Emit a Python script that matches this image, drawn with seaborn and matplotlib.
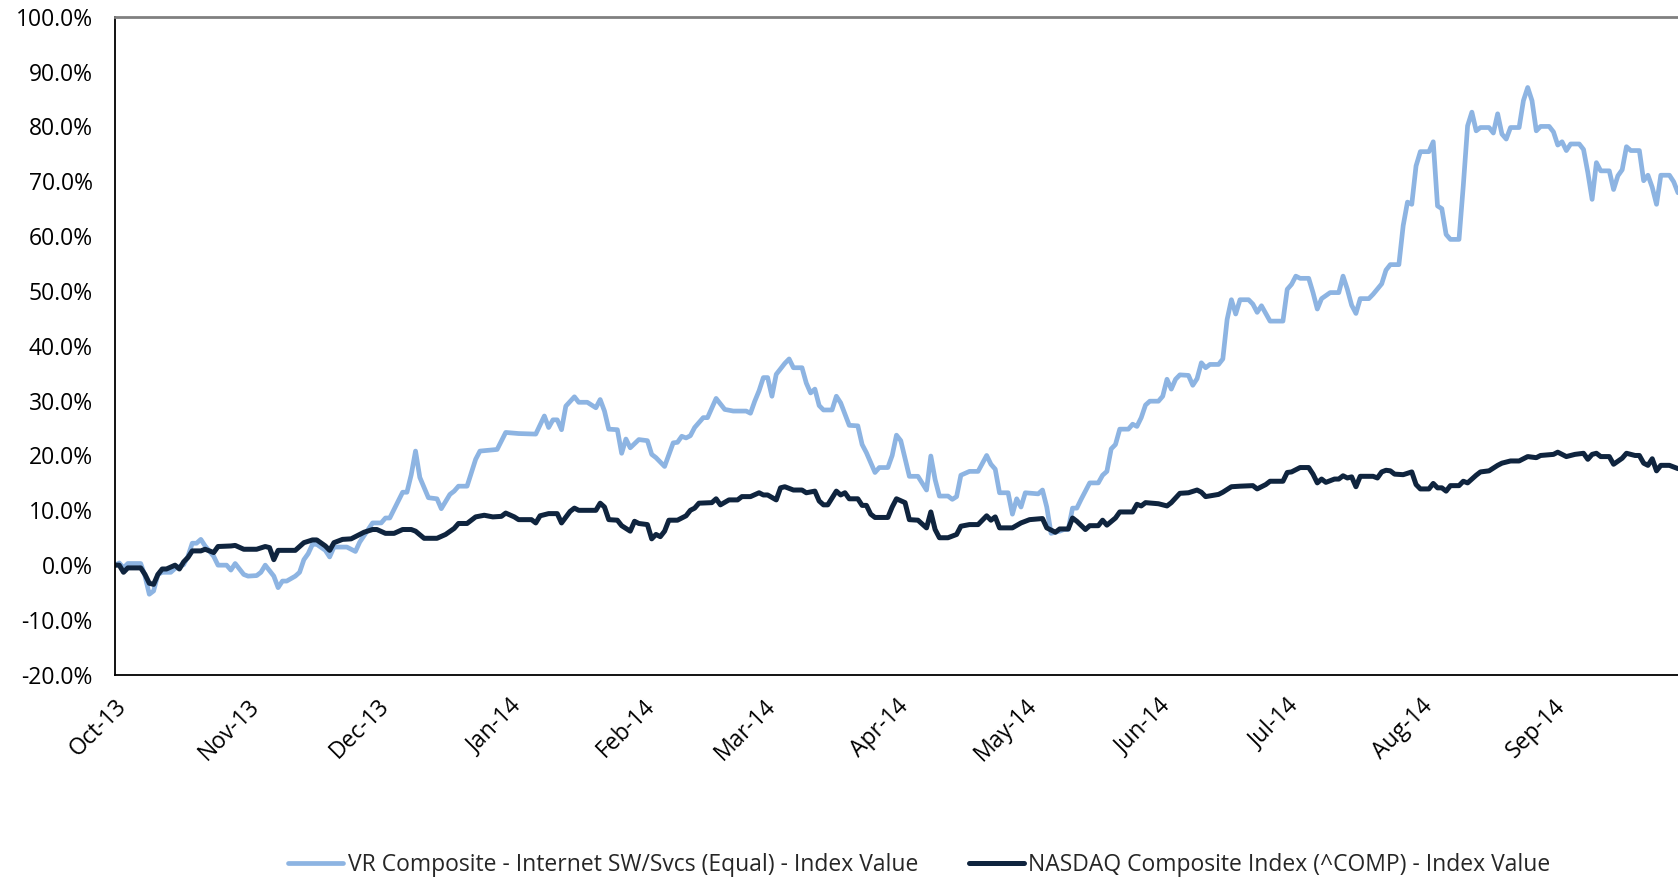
import pandas as pd
import numpy as np
import matplotlib.pyplot as plt
import matplotlib.dates as mdates
from matplotlib.ticker import PercentFormatter
import seaborn as sns

# values, percent change since 1 Oct 2013
vr_dates = [
    "2013-10-01", "2013-10-02", "2013-10-03", "2013-10-04", "2013-10-07", "2013-10-08", "2013-10-09",
    "2013-10-10", "2013-10-11", "2013-10-12", "2013-10-14", "2013-10-15", "2013-10-17", "2013-10-18",
    "2013-10-19", "2013-10-20", "2013-10-21", "2013-10-22", "2013-10-24", "2013-10-25", "2013-10-27",
    "2013-10-28", "2013-10-29", "2013-10-31", "2013-11-01", "2013-11-03", "2013-11-04", "2013-11-05",
    "2013-11-07", "2013-11-08", "2013-11-09", "2013-11-10", "2013-11-12", "2013-11-13", "2013-11-14",
    "2013-11-15", "2013-11-16", "2013-11-17", "2013-11-19", "2013-11-20", "2013-11-21", "2013-11-24",
    "2013-11-26", "2013-11-27", "2013-11-30", "2013-12-02", "2013-12-03", "2013-12-04", "2013-12-07",
    "2013-12-08", "2013-12-09", "2013-12-10", "2013-12-11", "2013-12-13", "2013-12-15", "2013-12-16",
    "2013-12-18", "2013-12-19", "2013-12-20", "2013-12-22", "2013-12-24", "2013-12-25", "2013-12-29",
    "2013-12-31", "2014-01-03", "2014-01-07", "2014-01-09", "2014-01-10", "2014-01-11", "2014-01-12",
    "2014-01-13", "2014-01-14", "2014-01-16", "2014-01-17", "2014-01-19", "2014-01-21", "2014-01-22",
    "2014-01-23", "2014-01-24", "2014-01-26", "2014-01-27", "2014-01-28", "2014-01-29", "2014-01-31",
    "2014-02-02", "2014-02-03", "2014-02-04", "2014-02-06", "2014-02-08", "2014-02-09", "2014-02-10",
    "2014-02-11", "2014-02-12", "2014-02-13", "2014-02-15", "2014-02-16", "2014-02-18", "2014-02-20",
    "2014-02-22", "2014-02-25", "2014-02-26", "2014-02-27", "2014-02-28", "2014-03-01", "2014-03-02",
    "2014-03-03", "2014-03-04", "2014-03-06", "2014-03-07", "2014-03-08", "2014-03-10", "2014-03-11",
    "2014-03-12", "2014-03-13", "2014-03-14", "2014-03-15", "2014-03-17", "2014-03-18", "2014-03-19",
    "2014-03-21", "2014-03-23", "2014-03-24", "2014-03-25", "2014-03-27", "2014-03-28", "2014-03-30",
    "2014-03-31", "2014-04-01", "2014-04-02", "2014-04-04", "2014-04-06", "2014-04-08", "2014-04-09",
    "2014-04-10", "2014-04-11", "2014-04-13", "2014-04-14", "2014-04-15", "2014-04-16", "2014-04-18",
    "2014-04-20", "2014-04-22", "2014-04-23", "2014-04-24", "2014-04-25", "2014-04-27", "2014-04-28",
    "2014-04-29", "2014-04-30", "2014-05-01", "2014-05-04", "2014-05-05", "2014-05-06", "2014-05-07",
    "2014-05-09", "2014-05-10", "2014-05-11", "2014-05-12", "2014-05-13", "2014-05-14", "2014-05-16",
    "2014-05-18", "2014-05-19", "2014-05-20", "2014-05-21", "2014-05-22", "2014-05-23", "2014-05-25",
    "2014-05-26", "2014-05-27", "2014-05-28", "2014-05-29", "2014-05-30", "2014-06-01", "2014-06-02",
    "2014-06-03", "2014-06-04", "2014-06-05", "2014-06-06", "2014-06-08", "2014-06-09", "2014-06-10",
    "2014-06-11", "2014-06-12", "2014-06-13", "2014-06-15", "2014-06-16", "2014-06-17", "2014-06-18",
    "2014-06-19", "2014-06-20", "2014-06-22", "2014-06-23", "2014-06-24", "2014-06-25", "2014-06-27",
    "2014-06-30", "2014-07-01", "2014-07-02", "2014-07-03", "2014-07-04", "2014-07-06", "2014-07-07",
    "2014-07-08", "2014-07-09", "2014-07-11", "2014-07-13", "2014-07-14", "2014-07-15", "2014-07-16",
    "2014-07-17", "2014-07-18", "2014-07-20", "2014-07-21", "2014-07-23", "2014-07-24", "2014-07-25",
    "2014-07-27", "2014-07-28", "2014-07-29", "2014-07-30", "2014-07-31", "2014-08-01", "2014-08-03",
    "2014-08-04", "2014-08-05", "2014-08-06", "2014-08-07", "2014-08-08", "2014-08-10", "2014-08-11",
    "2014-08-12", "2014-08-13", "2014-08-14", "2014-08-15", "2014-08-17", "2014-08-18", "2014-08-19",
    "2014-08-20", "2014-08-21", "2014-08-22", "2014-08-24", "2014-08-25", "2014-08-26", "2014-08-27",
    "2014-08-28", "2014-08-29", "2014-08-31", "2014-09-01", "2014-09-02", "2014-09-03", "2014-09-04",
    "2014-09-05", "2014-09-07", "2014-09-08", "2014-09-09", "2014-09-10", "2014-09-11", "2014-09-12",
    "2014-09-14", "2014-09-15", "2014-09-16", "2014-09-17", "2014-09-18", "2014-09-19", "2014-09-21",
    "2014-09-22", "2014-09-23", "2014-09-24", "2014-09-25", "2014-09-26", "2014-09-28", "2014-09-29",
    "2014-09-30",
]
vr_values = [
    0.0, 0.4, -0.5, 0.3, 0.3, -2.0, -5.3,
    -4.7, -1.7, -1.3, -1.3, -0.6, 0.1, 1.6,
    4.0, 4.0, 4.7, 3.5, 1.6, 0.0, 0.0,
    -0.9, 0.3, -1.7, -2.0, -1.9, -1.3, 0.0,
    -2.0, -4.1, -2.9, -2.9, -2.0, -1.3, 1.0,
    2.1, 3.8, 3.8, 2.7, 1.5, 3.3, 3.3,
    2.5, 4.2, 7.7, 7.7, 8.6, 8.6, 13.3,
    13.3, 16.5, 20.8, 16.0, 12.3, 12.1, 10.3,
    12.9, 13.5, 14.4, 14.4, 19.3, 20.8, 21.1,
    24.2, 24.0, 23.9, 27.2, 25.1, 26.5, 26.5,
    24.7, 29.0, 30.7, 29.7, 29.7, 28.7, 30.2,
    28.1, 24.8, 24.7, 20.4, 23.0, 21.4, 22.9,
    22.7, 20.2, 19.6, 18.0, 22.3, 22.4, 23.5,
    23.2, 23.6, 25.1, 26.9, 26.9, 30.4, 28.4,
    28.1, 28.1, 27.7, 29.9, 31.8, 34.2, 34.2,
    30.8, 34.8, 36.8, 37.6, 36.0, 36.0, 33.2,
    31.4, 32.1, 29.1, 28.3, 28.3, 30.8, 29.6,
    25.5, 25.4, 22.0, 20.5, 16.9, 17.8, 17.8,
    20.0, 23.7, 22.7, 16.2, 16.2, 13.7, 19.9,
    15.6, 12.6, 12.6, 12.0, 12.5, 16.4, 17.1,
    17.1, 20.0, 18.4, 17.5, 13.2, 13.2, 9.3,
    12.1, 10.6, 13.2, 13.0, 13.7, 10.6, 5.8,
    6.2, 6.5, 6.5, 10.4, 10.4, 12.0, 15.0,
    15.0, 16.4, 17.1, 21.2, 22.0, 24.8, 24.8,
    25.7, 25.3, 26.9, 29.2, 29.9, 29.9, 30.8,
    33.9, 32.1, 33.9, 34.7, 34.6, 32.8, 34.0,
    36.9, 36.0, 36.6, 36.6, 37.6, 44.8, 48.4,
    45.8, 48.4, 48.4, 47.6, 46.1, 47.3, 44.5,
    44.5, 50.3, 51.2, 52.7, 52.3, 52.3, 49.7,
    46.7, 48.6, 49.7, 49.7, 52.7, 50.3, 47.4,
    45.9, 48.6, 48.6, 49.4, 51.3, 53.8, 54.8,
    54.8, 61.9, 66.2, 65.8, 72.8, 75.4, 75.4,
    77.2, 65.5, 65.0, 60.3, 59.4, 59.4, 69.2,
    80.1, 82.6, 79.2, 79.8, 79.8, 78.8, 82.3,
    78.6, 77.7, 79.8, 79.8, 84.7, 87.1, 84.7,
    79.2, 80.0, 80.0, 79.0, 76.6, 77.2, 75.6,
    76.8, 76.8, 75.8, 71.6, 66.7, 73.4, 71.9,
    71.9, 68.5, 71.0, 72.1, 76.3, 75.6, 75.6,
    70.1, 71.1, 68.9, 65.8, 71.1, 71.1, 69.9,
    67.9,
]

nasdaq_dates = [
    "2013-10-01", "2013-10-02", "2013-10-03", "2013-10-04", "2013-10-07", "2013-10-08", "2013-10-09",
    "2013-10-10", "2013-10-11", "2013-10-12", "2013-10-13", "2013-10-15", "2013-10-16", "2013-10-17",
    "2013-10-18", "2013-10-19", "2013-10-21", "2013-10-22", "2013-10-24", "2013-10-25", "2013-10-28",
    "2013-10-29", "2013-10-31", "2013-11-03", "2013-11-05", "2013-11-06", "2013-11-07", "2013-11-08",
    "2013-11-12", "2013-11-14", "2013-11-16", "2013-11-17", "2013-11-19", "2013-11-20", "2013-11-21",
    "2013-11-23", "2013-11-25", "2013-11-28", "2013-11-30", "2013-12-01", "2013-12-03", "2013-12-05",
    "2013-12-07", "2013-12-09", "2013-12-10", "2013-12-12", "2013-12-15", "2013-12-17", "2013-12-19",
    "2013-12-20", "2013-12-22", "2013-12-24", "2013-12-26", "2013-12-28", "2013-12-30", "2013-12-31",
    "2014-01-02", "2014-01-03", "2014-01-06", "2014-01-07", "2014-01-08", "2014-01-10", "2014-01-12",
    "2014-01-13", "2014-01-15", "2014-01-16", "2014-01-17", "2014-01-21", "2014-01-22", "2014-01-23",
    "2014-01-24", "2014-01-26", "2014-01-27", "2014-01-29", "2014-01-30", "2014-01-31", "2014-02-02",
    "2014-02-03", "2014-02-04", "2014-02-05", "2014-02-06", "2014-02-07", "2014-02-09", "2014-02-11",
    "2014-02-12", "2014-02-13", "2014-02-14", "2014-02-17", "2014-02-18", "2014-02-19", "2014-02-21",
    "2014-02-23", "2014-02-24", "2014-02-26", "2014-02-28", "2014-03-01", "2014-03-02", "2014-03-04",
    "2014-03-05", "2014-03-06", "2014-03-08", "2014-03-10", "2014-03-11", "2014-03-13", "2014-03-14",
    "2014-03-15", "2014-03-16", "2014-03-18", "2014-03-19", "2014-03-20", "2014-03-21", "2014-03-23",
    "2014-03-24", "2014-03-25", "2014-03-26", "2014-03-27", "2014-03-30", "2014-03-31", "2014-04-01",
    "2014-04-03", "2014-04-04", "2014-04-06", "2014-04-08", "2014-04-09", "2014-04-10", "2014-04-11",
    "2014-04-13", "2014-04-15", "2014-04-16", "2014-04-18", "2014-04-20", "2014-04-22", "2014-04-23",
    "2014-04-24", "2014-04-25", "2014-04-28", "2014-04-30", "2014-05-02", "2014-05-05", "2014-05-06",
    "2014-05-08", "2014-05-09", "2014-05-11", "2014-05-12", "2014-05-13", "2014-05-15", "2014-05-16",
    "2014-05-18", "2014-05-19", "2014-05-20", "2014-05-22", "2014-05-23", "2014-05-26", "2014-05-27",
    "2014-05-28", "2014-05-29", "2014-06-01", "2014-06-03", "2014-06-04", "2014-06-06", "2014-06-08",
    "2014-06-10", "2014-06-11", "2014-06-12", "2014-06-15", "2014-06-16", "2014-06-18", "2014-06-20",
    "2014-06-23", "2014-06-24", "2014-06-26", "2014-06-27", "2014-06-30", "2014-07-01", "2014-07-02",
    "2014-07-04", "2014-07-06", "2014-07-07", "2014-07-08", "2014-07-09", "2014-07-10", "2014-07-12",
    "2014-07-13", "2014-07-14", "2014-07-15", "2014-07-16", "2014-07-17", "2014-07-18", "2014-07-21",
    "2014-07-22", "2014-07-23", "2014-07-24", "2014-07-25", "2014-07-26", "2014-07-28", "2014-07-30",
    "2014-07-31", "2014-08-01", "2014-08-03", "2014-08-04", "2014-08-05", "2014-08-06", "2014-08-07",
    "2014-08-08", "2014-08-10", "2014-08-11", "2014-08-12", "2014-08-14", "2014-08-15", "2014-08-17",
    "2014-08-19", "2014-08-20", "2014-08-22", "2014-08-24", "2014-08-26", "2014-08-28", "2014-08-29",
    "2014-09-01", "2014-09-02", "2014-09-04", "2014-09-06", "2014-09-08", "2014-09-09", "2014-09-10",
    "2014-09-11", "2014-09-12", "2014-09-14", "2014-09-15", "2014-09-17", "2014-09-18", "2014-09-20",
    "2014-09-21", "2014-09-22", "2014-09-23", "2014-09-24", "2014-09-25", "2014-09-26", "2014-09-28",
    "2014-09-29", "2014-09-30",
]
nasdaq_values = [
    0.0, 0.0, -1.3, -0.5, -0.5, -1.7, -3.3,
    -3.5, -1.7, -0.7, -0.7, 0.0, -0.7, 0.6,
    1.4, 2.6, 2.6, 2.9, 2.3, 3.4, 3.5,
    3.6, 2.9, 2.9, 3.4, 3.2, 1.0, 2.7,
    2.7, 4.1, 4.6, 4.6, 3.5, 2.7, 4.1,
    4.7, 4.8, 6.0, 6.5, 6.5, 5.8, 5.8,
    6.5, 6.5, 6.2, 4.9, 4.9, 5.6, 6.7,
    7.6, 7.6, 8.8, 9.1, 8.8, 8.9, 9.5,
    8.8, 8.3, 8.3, 7.7, 9.0, 9.4, 9.4,
    7.7, 9.8, 10.4, 10.0, 10.0, 11.3, 10.6,
    8.3, 8.2, 7.2, 6.2, 8.0, 7.6, 7.4,
    4.8, 5.6, 5.2, 6.2, 8.2, 8.2, 9.0,
    10.0, 10.4, 11.3, 11.4, 12.1, 11.0, 11.9,
    11.9, 12.5, 12.5, 13.2, 12.8, 12.8, 11.9,
    14.1, 14.3, 13.7, 13.7, 13.2, 13.5, 11.7,
    11.0, 11.0, 13.5, 12.8, 13.2, 12.1, 12.1,
    10.9, 10.9, 9.3, 8.7, 8.7, 10.6, 12.1,
    11.4, 8.3, 8.2, 6.8, 9.7, 6.5, 5.0,
    5.0, 5.6, 7.1, 7.4, 7.4, 9.0, 8.2,
    8.8, 6.8, 6.8, 7.7, 8.3, 8.5, 6.8,
    6.0, 6.6, 6.6, 8.6, 8.0, 6.5, 7.2,
    7.2, 8.2, 7.3, 8.6, 9.7, 9.7, 11.1,
    10.8, 11.4, 11.2, 10.8, 11.4, 13.1, 13.2,
    13.7, 13.3, 12.5, 12.9, 13.3, 14.3, 14.4,
    14.5, 13.9, 14.7, 15.3, 15.3, 16.9, 17.0,
    17.8, 17.8, 16.6, 15.0, 15.7, 15.1, 15.7,
    15.7, 16.3, 15.9, 16.1, 14.3, 16.2, 16.2,
    15.9, 17.0, 17.3, 17.2, 16.6, 16.5, 17.0,
    14.7, 13.9, 13.9, 14.9, 14.1, 14.1, 13.5,
    14.5, 14.5, 15.3, 15.0, 16.4, 17.0, 17.2,
    18.2, 18.6, 19.0, 19.0, 19.8, 19.6, 20.0,
    20.2, 20.6, 19.8, 20.2, 20.4, 19.3, 20.2,
    20.4, 19.8, 19.8, 18.4, 19.5, 20.4, 20.0,
    20.0, 18.6, 18.2, 19.4, 17.2, 18.2, 18.2,
    17.9, 17.6,
]

vr_label = "VR Composite - Internet SW/Svcs (Equal) - Index Value"
nasdaq_label = "NASDAQ Composite Index (^COMP) - Index Value"
month_ticks = pd.date_range("2013-10-01", "2014-09-01", freq="MS")

sns.set_style("white")
plt.rcParams["font.family"] = ["Open Sans", "DejaVu Sans"]
plt.rcParams["axes.unicode_minus"] = False

vr = pd.DataFrame({"date": pd.to_datetime(vr_dates), "value": vr_values})
nasdaq = pd.DataFrame({"date": pd.to_datetime(nasdaq_dates), "value": nasdaq_values})

fig = plt.figure(figsize=(16.78, 8.81), dpi=100)
ax = fig.add_axes([0.0685, 0.234, 0.9315, 0.747])

sns.lineplot(data=vr, x="date", y="value", ax=ax, color="#8DB4E2", linewidth=3.4, label=vr_label)
sns.lineplot(data=nasdaq, x="date", y="value", ax=ax, color="#0F243E", linewidth=3.6, label=nasdaq_label)

ax.set_xlim(pd.Timestamp("2013-10-01"), pd.Timestamp("2014-09-30"))
ax.set_ylim(-20, 100)
ax.set_yticks(np.arange(-20, 101, 10))
ax.yaxis.set_major_formatter(PercentFormatter(xmax=100, decimals=1))
ax.set_xticks(month_ticks)
ax.xaxis.set_major_formatter(mdates.DateFormatter("%b-%y"))
plt.setp(ax.get_xticklabels(), rotation=45, ha="right", rotation_mode="anchor")
ax.set_xlabel("")
ax.set_ylabel("")

ax.tick_params(axis="both", which="major", direction="out", length=6, width=1,
               color="#808080", labelsize=16.5, labelcolor="black")
ax.tick_params(axis="y", pad=10)
ax.tick_params(axis="x", pad=8)

for side in ["left", "bottom"]:
    ax.spines[side].set_color("black")
    ax.spines[side].set_linewidth(1.3)
ax.spines["top"].set_color("#808080")
ax.spines["top"].set_linewidth(2)
ax.spines["right"].set_visible(False)

ax.get_legend().remove()
handles, labels = ax.get_legend_handles_labels()
fig.legend(handles, labels, loc="center", bbox_to_anchor=(0.548, 0.018), ncol=2,
           frameon=False, fontsize=16.5, handlelength=2.4, handletextpad=0.2,
           columnspacing=2.2)

plt.savefig("out.png", dpi=100)
